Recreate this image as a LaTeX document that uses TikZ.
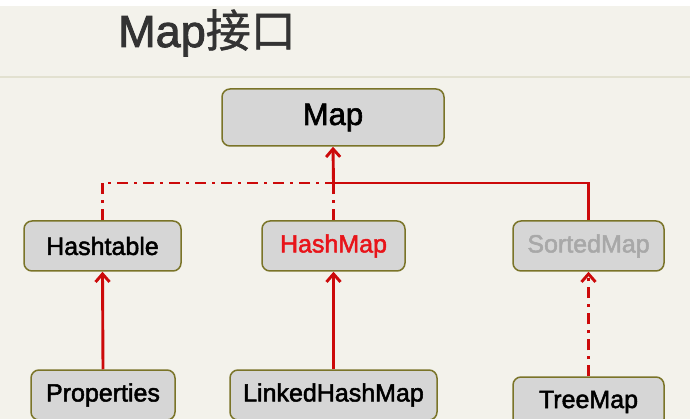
\documentclass[tikz,border=0pt]{standalone}
\usepackage{fontspec}
\setmainfont{Liberation Sans}
\newfontfamily\heavy[FakeBold=2]{Liberation Sans}
\newfontfamily\cjk[FakeBold=1]{Noto Sans CJK SC}
\usetikzlibrary{arrows.meta}
\definecolor{bgcream}{HTML}{F3F2EB}
\definecolor{boxfill}{HTML}{D6D6D6}
\definecolor{boxline}{HTML}{7A7428}
\definecolor{relred}{HTML}{CC0A0A}
\definecolor{titlegray}{HTML}{333333}
\definecolor{sepline}{HTML}{E2E1D0}
\definecolor{hmred}{HTML}{E8141A}
\definecolor{sortgray}{HTML}{A8A8A8}
\tikzset{
  x=1pt, y=-1pt,
  cls/.style={draw=boxline, line width=1.5pt, fill=boxfill, rounded corners=8pt,
    minimum height=50pt, inner sep=0pt, font=\heavy\fontsize{25}{30}\selectfont, text=black},
  rel/.style={draw=relred, line width=2.9pt},
  reldash/.style={rel, dash pattern=on 11pt off 6pt on 3pt off 6pt},
  tip/.style={-{Straight Barb[length=8pt,width=14pt]}},
}
\begin{document}
\begin{tikzpicture}
\useasboundingbox (0,0) rectangle (690,419);
\clip (0,0) rectangle (690,419);
\fill[bgcream] (0,0) rectangle (690,419);
\fill[white] (0,0) rectangle (690,6);
\draw[sepline, line width=1.5pt] (0,77) -- (690,77);
\node[text=titlegray, font=\heavy\fontsize{45}{50}\selectfont, anchor=base] (title) at (207,47) {Map{\cjk 接口}};

\node[cls, minimum width=222pt, minimum height=57pt, font=\heavy\fontsize{31}{36}\selectfont] (map) at (333,117.5) {Map};
\node[cls, minimum width=157pt] (ht) at (102.5,246) {Hashtable};
\node[cls, minimum width=143pt, text=hmred] (hm) at (333.5,246) {HashMap};
\node[cls, minimum width=151pt, text=sortgray] (sm) at (588.5,246) {SortedMap};
\node[cls, minimum width=144pt] (prop) at (103,395) {Properties};
\node[cls, minimum width=207pt] (lhm) at (333.5,395) {LinkedHashMap};
\node[cls, minimum width=151pt] (tm) at (588.5,402) {TreeMap};

\coordinate (j) at (333.5,183);
\draw[rel, tip] (j) -- (map.south);
\draw[rel] (sm.north) |- (j);
\draw[reldash] (hm.north) -- (j);
\draw[reldash] (ht.north) |- (j);
\draw[rel, tip] (prop.north) -- (ht.south);
\draw[rel, tip] (lhm.north) -- (hm.south);
\draw[reldash, tip] (tm.north) -- (sm.south);
\end{tikzpicture}
\end{document}
